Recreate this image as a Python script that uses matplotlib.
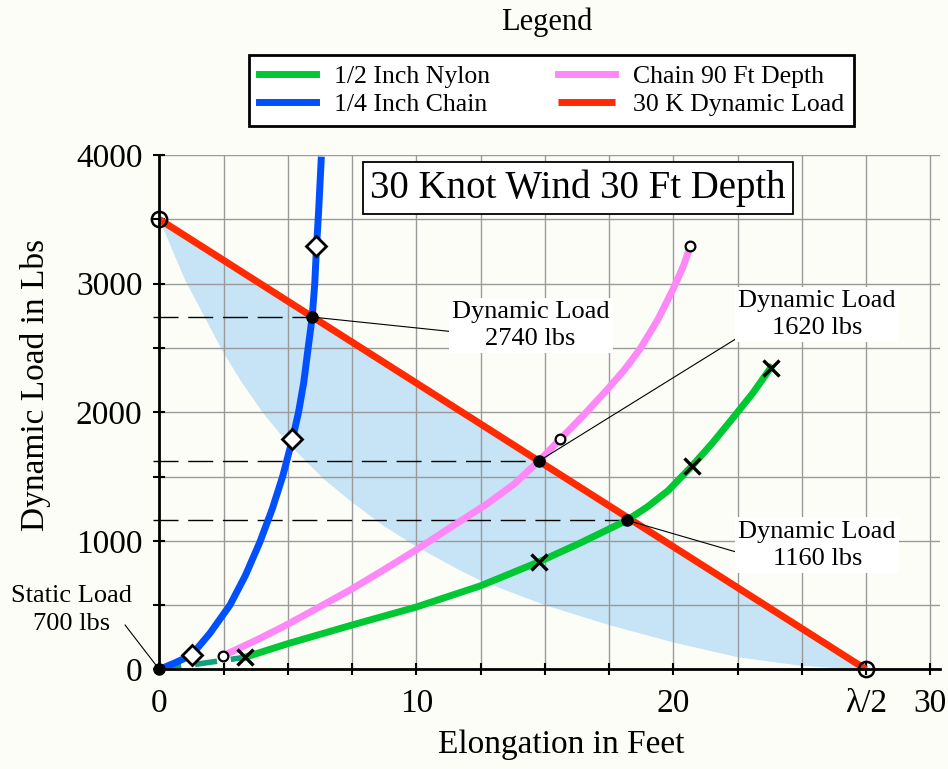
import matplotlib
matplotlib.use("Agg")
import matplotlib.pyplot as plt
import numpy as np

plt.rcParams["font.family"] = ["Liberation Serif", "DejaVu Serif"]

# 1/4 inch chain (ft, lbs)
chain_x = [0, 0.6, 1.26, 1.97, 2.75, 3.35, 3.92, 4.4, 4.8, 5.18, 5.42, 5.62, 5.78, 5.95, 6.05, 6.12, 6.2, 6.3]
chain_y = [0, 50, 112, 281, 500, 730, 993, 1250, 1500, 1790, 2000, 2230, 2480, 2740, 3000, 3290, 3560, 3960]
chain_mark_x = [1.26, 5.18, 6.08]
chain_mark_y = [112, 1790, 3290]

# chain at 90 ft depth
deep_x = [2.49, 3.8, 4.82, 6.0, 7.42, 8.7, 10.0, 11.3, 12.74, 13.8, 14.77, 15.6, 16.5, 17.4, 18.1, 18.7, 19.4, 20.0, 20.4, 20.66]
deep_y = [107, 230, 332, 460, 617, 770, 930, 1100, 1285, 1440, 1620, 1790, 1975, 2170, 2330, 2490, 2720, 2960, 3140, 3290]
deep_mark_x = [2.49, 15.6, 20.66]
deep_mark_y = [107, 1790, 3290]

# 1/2 inch nylon
nylon_x = [3.33, 5.0, 7.5, 10.0, 12.5, 14.79, 16.4, 18.2, 19.0, 19.8, 20.72, 21.5, 22.3, 23.1, 23.79]
nylon_y = [94, 200, 345, 485, 650, 838, 985, 1160, 1265, 1390, 1580, 1755, 1950, 2150, 2345]
nylon_lead_x = [0, 3.33]
nylon_lead_y = [0, 94]
nylon_mark_x = [3.33, 14.79, 20.72, 23.79]
nylon_mark_y = [94, 838, 1580, 2345]

# 30 knot dynamic load line
load_x = [0, 27.5]
load_y = [3500, 0]

# lower edge of shaded region
shade_x = [0, 1.0, 2.45, 3.15, 4.05, 5.0, 6.4, 7.5, 8.7, 10.0, 11.7, 12.5, 15.0, 17.5, 20.0, 22.5, 24.9, 26.5, 27.5]
shade_y = [3500, 3030, 2480, 2250, 1990, 1760, 1480, 1300, 1120, 955, 770, 690, 500, 345, 210, 95, 30, 8, 0]

# intersections
cross_x = [5.95, 14.77, 18.2]
cross_y = [2740, 1620, 1160]
cross_text = ["Dynamic Load\n2740 lbs", "Dynamic Load\n1620 lbs", "Dynamic Load\n1160 lbs"]
text_x = [14.45, 25.6, 25.6]
text_y = [2675, 2760, 967]
leader_x = [12.1, 23.4, 23.0]
leader_y = [2612, 2690, 881]

x_ticks = [0, 2.5, 5, 7.5, 10, 12.5, 15, 17.5, 20, 22.5, 25, 27.5, 30]
x_tick_labels = ["0", "", "", "", "10", "", "", "", "20", "", "", "λ/2", "30"]
y_ticks = [0, 500, 1000, 1500, 2000, 2500, 3000, 3500, 4000]
y_tick_labels = ["0", "", "1000", "", "2000", "", "3000", "", "4000"]

bg = "#fdfdf8"
green = "#00c832"
blue = "#0050ff"
pink = "#ff88f8"
red = "#ff2a00"

fig = plt.figure(figsize=(9.48, 7.69), dpi=100, facecolor=bg)
ax = fig.add_axes([0.168, 0.1295, 0.8236, 0.6689], facecolor=bg)

ax.fill(shade_x + load_x[::-1], shade_y + load_y[::-1], color="#c6e4f5", lw=0, zorder=0.2)

for cx, cy in zip(cross_x, cross_y):
    ax.plot([-0.25, cx], [cy, cy], color="black", lw=1, dashes=(18, 7), zorder=2, clip_on=False)

ax.plot(load_x, load_y, color=red, lw=5, zorder=3, solid_capstyle="butt", label="30 K Dynamic Load")
ax.plot(deep_x, deep_y, color=pink, lw=5, zorder=3, label="Chain 90 Ft Depth")
ax.plot(nylon_lead_x, nylon_lead_y, color="#12a07a", lw=4, dashes=(4, 2.5), zorder=3)
ax.plot(nylon_x, nylon_y, color=green, lw=5, zorder=3, label="1/2 Inch Nylon")
ax.plot(chain_x, chain_y, color=blue, lw=5, zorder=3, label="1/4 Inch Chain")

ax.plot(chain_mark_x, chain_mark_y, "D", ms=10, mfc="white", mec="black", mew=2, zorder=5)
ax.plot(deep_mark_x, deep_mark_y, "o", ms=7, mfc="white", mec="black", mew=1.6, zorder=5)
ax.plot(nylon_mark_x, nylon_mark_y, "x", ms=12, mec="black", mew=2.4, zorder=5)
ax.plot(load_x, load_y, "o", ms=11, mfc="none", mec="black", mew=1.8, zorder=5, clip_on=False)
ax.plot(cross_x, cross_y, "o", ms=8, color="black", zorder=6)
ax.plot([0], [0], "o", ms=8, color="black", zorder=6, clip_on=False)

for cx, cy, lx, ly, t, tx, ty in zip(cross_x, cross_y, leader_x, leader_y, cross_text, text_x, text_y):
    ax.plot([cx, lx], [cy, ly], color="black", lw=0.8, zorder=4)
    ax.text(tx, ty, t, fontsize=19, ha="center", va="center", linespacing=1.3, zorder=7,
            bbox=dict(boxstyle="square,pad=0.12", fc="white", ec="none"))

ax.plot([0, -1.33], [0, 345], color="black", lw=0.8, zorder=4, clip_on=False)
ax.text(-3.41, 462, "Static Load\n700 lbs", fontsize=19, ha="center", va="center",
        linespacing=1.3, zorder=7)

ax.text(16.3, 3743, "30 Knot Wind 30 Ft Depth", fontsize=28, ha="center", va="center", zorder=7,
        bbox=dict(boxstyle="square,pad=0.18", fc="white", ec="black", lw=1.3))

ax.set_xlim(0, 30.38)
ax.set_ylim(0, 4000)
ax.set_xticks(x_ticks, labels=x_tick_labels)
ax.set_yticks(y_ticks, labels=y_tick_labels)
ax.tick_params(direction="inout", length=8, width=1.5, labelsize=24, colors="black")
ax.tick_params(axis="x", pad=10)
ax.tick_params(axis="y", pad=8)
ax.grid(True, color="#9a9a9a", lw=1)
ax.set_axisbelow(True)
for s in ["top", "right"]:
    ax.spines[s].set_visible(False)
for s in ["left", "bottom"]:
    ax.spines[s].set_linewidth(2)
    ax.spines[s].set_zorder(4)

ax.set_xlabel("Elongation in Feet", fontsize=24, va="center")
ax.xaxis.set_label_coords(0.5145, -0.147)
ax.set_ylabel("Dynamic Load in Lbs", fontsize=24, va="center")
ax.yaxis.set_label_coords(-0.159, 0.553)

h, l = ax.get_legend_handles_labels()
order = [2, 3, 1, 0]
leg = fig.legend([h[i] for i in order], [l[i] for i in order], ncol=2, loc="center",
                 bbox_to_anchor=(0.2627, 0.8323, 0.6381, 0.1001), mode="expand", fontsize=18.5,
                 handlelength=2.2, handletextpad=0.7, labelspacing=0.2, borderaxespad=0,
                 fancybox=False, edgecolor="black", framealpha=1, facecolor="white")
leg.get_frame().set_linewidth(2)
fig.text(0.577, 0.971, "Legend", fontsize=22, ha="center", va="center")

fig.savefig("out.png", dpi=100, facecolor=bg)
